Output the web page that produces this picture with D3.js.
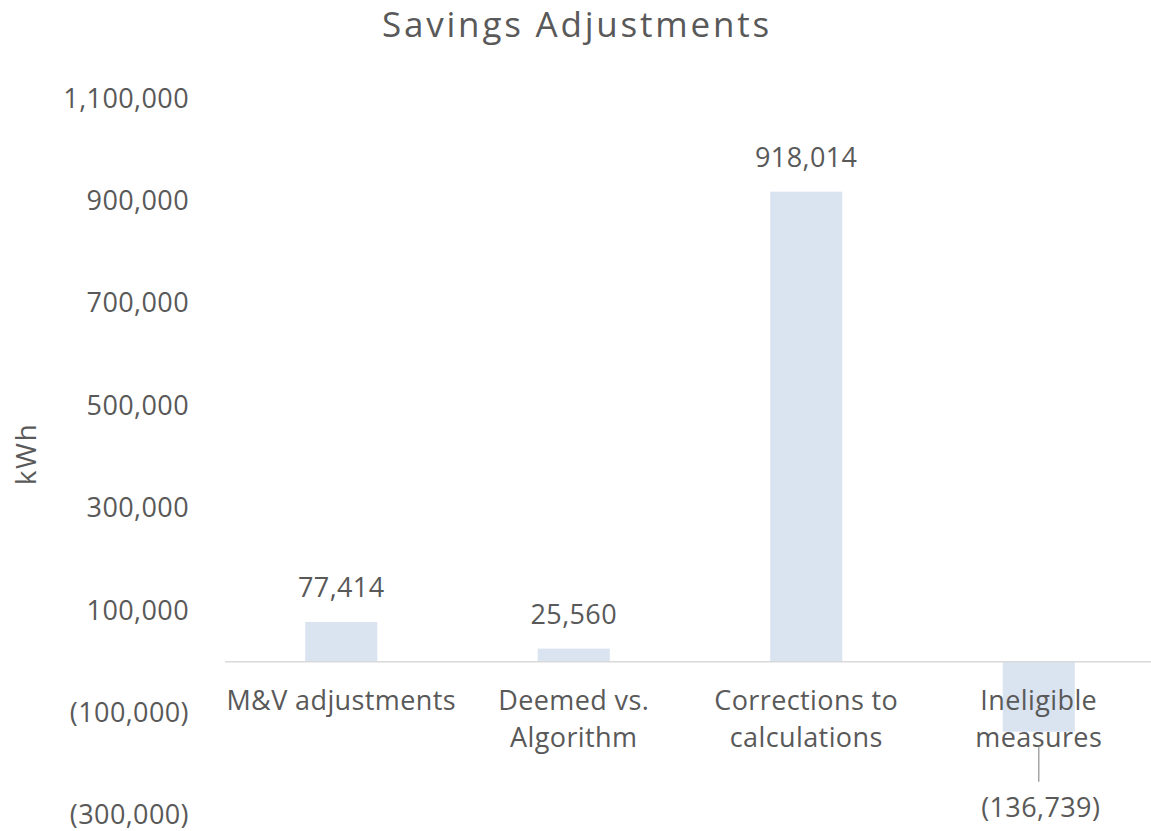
<!DOCTYPE html>
<html>
<head>
<meta charset="utf-8">
<script src="https://cdn.jsdelivr.net/npm/d3@7"></script>
<style>
  body { margin: 0; background: #fff; }
  text { font-family: "Open Sans", sans-serif; fill: #595959; }
</style>
</head>
<body>
<script>
// Chart data
const categories = ["M&V adjustments", "Deemed vs.\nAlgorithm", "Corrections to\ncalculations", "Ineligible\nmeasures"];
const savings = [77414, 25560, 918014, -136739];
const yTicks = [-300000, -100000, 100000, 300000, 500000, 700000, 900000, 1100000];

const width = 1151;
const height = 831;
const plot = {left: 225, right: 1155, top: 98.5, bottom: 815.3};
const labelSize = '27px';

const svg = d3.select('body')
  .append('svg')
  .attr('width', width)
  .attr('height', height);

const data = categories.map((c, i) => ({cat: c, value: savings[i]}));

// number format, negatives in brackets
const fmt = d3.format(',');
const fmtVal = (v) => v < 0 ? '(' + fmt(-v) + ')' : fmt(v);

// Scales
const x = d3.scaleBand()
  .domain(categories)
  .range([plot.left, plot.right])
  .paddingInner(0.69)
  .paddingOuter(0.345);

const y = d3.scaleLinear()
  .domain([-300000, 1100000])
  .range([plot.bottom, plot.top]);

// Title
svg.append('text')
  .attr('x', 577)
  .attr('y', 37)
  .attr('text-anchor', 'middle')
  .style('font-size', '35px')
  .style('letter-spacing', '2.8px')
  .text('Savings Adjustments');

// Y axis label
svg.append('text')
  .attr('transform', 'translate(36,454) rotate(-90)')
  .attr('text-anchor', 'middle')
  .style('font-size', '28px')
  .style('letter-spacing', '1.5px')
  .text('kWh');

// Y axis
const yAxis = d3.axisLeft(y)
  .tickValues(yTicks)
  .tickFormat(fmtVal)
  .tickSize(0)
  .tickPadding(36);

svg.append('g')
  .attr('class', 'axis y')
  .attr('transform', 'translate(' + plot.left + ',0)')
  .call(yAxis)
  .call(g => g.select('.domain').remove())
  .selectAll('text')
  .style('font-size', labelSize)
  .style('letter-spacing', '0.4px')
  .style('font-family', '"Open Sans", sans-serif')
  .attr('fill', '#595959');

// Bars
svg.append('g')
  .attr('class', 'bars')
  .selectAll('rect')
  .data(data)
  .join('rect')
  .attr('x', d => x(d.cat))
  .attr('y', d => y(Math.max(0, d.value)))
  .attr('width', x.bandwidth())
  .attr('height', d => Math.abs(y(d.value) - y(0)))
  .attr('fill', '#dae3f0');

// Zero line
svg.append('line')
  .attr('x1', plot.left)
  .attr('x2', plot.right)
  .attr('y1', y(0))
  .attr('y2', y(0))
  .attr('stroke', '#d9d9d9')
  .attr('stroke-width', 1.5);

// Category labels
const catLabels = svg.append('g')
  .attr('class', 'categories')
  .selectAll('text')
  .data(data)
  .join('text')
  .attr('text-anchor', 'middle')
  .style('font-size', labelSize)
  .style('letter-spacing', '0.4px');

catLabels.selectAll('tspan')
  .data(d => d.cat.split('\n').map(line => ({line, x: x(d.cat) + x.bandwidth() / 2})))
  .join('tspan')
  .attr('x', d => d.x)
  .attr('y', (d, i) => y(0) + 48 + i * 37)
  .text(d => d.line);

// Data labels
const pos = data.filter(d => d.value >= 0);
const neg = data.filter(d => d.value < 0);

svg.append('g')
  .selectAll('text')
  .data(pos)
  .join('text')
  .attr('x', d => x(d.cat) + x.bandwidth() / 2)
  .attr('y', d => y(d.value) - 25)
  .attr('text-anchor', 'middle')
  .style('font-size', labelSize)
  .style('letter-spacing', '0.4px')
  .text(d => fmtVal(d.value));

// negative label sits under the category text, with a leader line
const negG = svg.append('g');
negG.selectAll('line')
  .data(neg)
  .join('line')
  .attr('x1', d => x(d.cat) + x.bandwidth() / 2)
  .attr('x2', d => x(d.cat) + x.bandwidth() / 2)
  .attr('y1', y(0) + 85)
  .attr('y2', y(0) + 120)
  .attr('stroke', '#a6a6a6')
  .attr('stroke-width', 1.5);

negG.selectAll('text')
  .data(neg)
  .join('text')
  .attr('x', d => x(d.cat) + x.bandwidth() / 2 + 2)
  .attr('y', y(0) + 155)
  .attr('text-anchor', 'middle')
  .style('font-size', labelSize)
  .style('letter-spacing', '0.4px')
  .text(d => fmtVal(d.value));
</script>
</body>
</html>
